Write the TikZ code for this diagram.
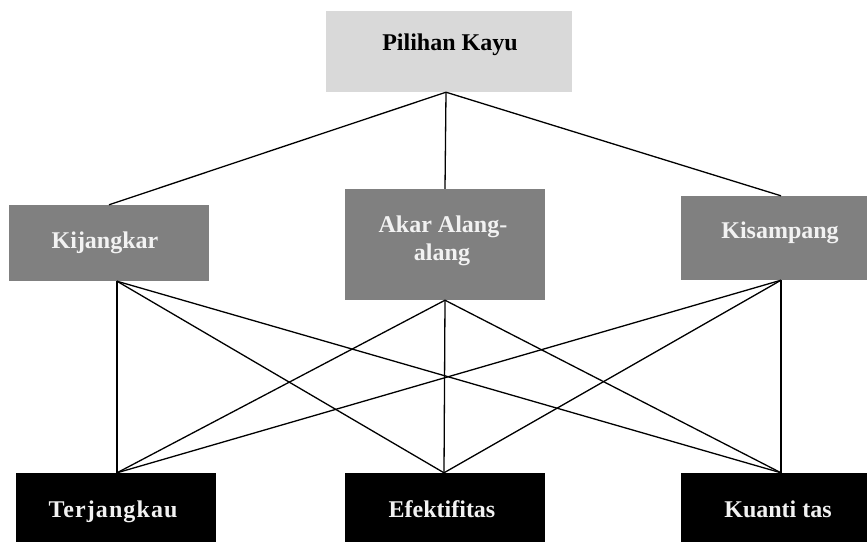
\documentclass[tikz,border=0pt]{standalone}
\usepackage{fontspec}
\setmainfont{Liberation Serif}
\usetikzlibrary{calc}
\definecolor{topgray}{HTML}{D9D9D9}
\definecolor{midgray}{HTML}{808080}
\definecolor{offwhite}{HTML}{F2F2F2}
\begin{document}
\begin{tikzpicture}[x=1pt,y=-1pt,
  box/.style={draw=none,inner sep=0pt,anchor=center},
  lbl/.style={font=\fontsize{24}{28}\selectfont\bfseries,anchor=base,inner sep=0pt},
  conn/.style={line width=1.3pt,black}]
\useasboundingbox (0,0) rectangle (867,542);
% boxes
\node[box,fill=topgray,minimum width=246pt,minimum height=81pt] (top) at (449,51.5) {};
\node[box,fill=midgray,minimum width=200pt,minimum height=76pt] (kij) at (109,243) {};
\node[box,fill=midgray,minimum width=200pt,minimum height=111pt] (akar) at (445,244.5) {};
\node[box,fill=midgray,minimum width=186pt,minimum height=84pt] (kis) at (774,238) {};
\node[box,fill=black,minimum width=200pt,minimum height=69pt] (ter) at (116,507.5) {};
\node[box,fill=black,minimum width=200pt,minimum height=69pt] (efe) at (445,507.5) {};
\node[box,fill=black,minimum width=186pt,minimum height=69pt] (kua) at (774,507.5) {};
% labels
\node[lbl,text=black] (tTop) at (450,50) {Pilihan Kayu};
\node[lbl,text=offwhite] (tKij) at (105,248) {Kijangkar};
\node[lbl,text=offwhite] (tAkar1) at (443,232) {Akar Alang-};
\node[lbl,text=offwhite] (tAkar2) at (442,260) {alang};
\node[lbl,text=offwhite] (tKis) at (780,238) {Kisampang};
\node[lbl,text=offwhite] (tTer) at (113,517) {\addfontfeature{LetterSpace=4.5}Terjangkau};
\node[lbl,text=offwhite] (tEfe) at (442,517) {Efektifitas};
\node[lbl,text=offwhite] (tKua) at (778,517) {Kuanti tas};
% connectors
\coordinate (topS) at ($(top.south)+(-3,0)$);
\draw[conn] (topS) -- (kij.north);
\draw[conn] (topS) -- (akar.north);
\draw[conn] (topS) -- ($(kis.north)+(7,0)$);
\foreach \s/\dx in {kij/8,akar/0,kis/7}{
  \draw[conn] ($(\s.south)+(\dx,0)$) -- ($(ter.north)+(1,0)$);
  \draw[conn] ($(\s.south)+(\dx,0)$) -- ($(efe.north)+(-1,0)$);
  \draw[conn] ($(\s.south)+(\dx,0)$) -- ($(kua.north)+(7,0)$);
}
\end{tikzpicture}
\end{document}
